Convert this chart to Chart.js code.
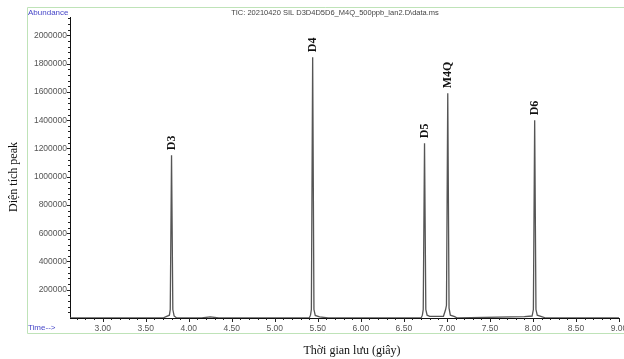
<!DOCTYPE html>
<html>
<head>
<meta charset="utf-8">
<script src="https://cdn.jsdelivr.net/npm/chart.js@4"></script>
<style>
  html, body { margin: 0; padding: 0; background: #fff; }
  #wrap { width: 624px; height: 359px; position: relative; }
</style>
</head>
<body>
<div id="wrap"><canvas id="tic" width="624" height="359"></canvas></div>
<script>
// -----------------------------
// Data
// -----------------------------
const retTime = [2.62, 3.70, 3.775, 3.785, 3.80, 3.815, 3.83, 3.86, 4.15, 4.25, 4.35,
                 5.40, 5.415, 5.425, 5.44, 5.455, 5.47, 5.52, 5.62,
                 6.70, 6.715, 6.725, 6.74, 6.755, 6.77, 6.80, 6.96, 6.985, 6.995, 7.01, 7.025, 7.04, 7.09, 7.12,
                 7.90, 7.99, 8.005, 8.02, 8.035, 8.05, 8.10, 8.15, 9.0];
const abundance = [0, 0, 20000, 60000, 1152000, 60000, 15000, 0, 0, 8000, 0,
                   0, 20000, 60000, 1845000, 60000, 18000, 8000, 0,
                   0, 20000, 60000, 1237000, 60000, 20000, 12000, 12000, 60000, 90000, 1590000, 70000, 20000, 10000, 0,
                   10000, 14000, 60000, 1399000, 60000, 20000, 10000, 0, 0];

const peakNames = ["D3", "D4", "D5", "M4Q", "D6"];
const peakTimes = [3.80, 5.44, 6.74, 7.01, 8.02];
const peakHeights = [1152000, 1845000, 1237000, 1590000, 1399000];

const xTicks = [3.0, 3.5, 4.0, 4.5, 5.0, 5.5, 6.0, 6.5, 7.0, 7.5, 8.0, 8.5, 9.0];
const yTicks = [200000, 400000, 600000, 800000, 1000000, 1200000, 1400000, 1600000, 1800000, 2000000];

const points = retTime.map((t, i) => ({ x: t, y: abundance[i] }));

// -----------------------------
// Decorations: frame, header texts, tick marks, peak names
// -----------------------------
const decor = {
    id: "decor",
    afterDraw(chart) {
        const ctx = chart.ctx;
        const xs = chart.scales.x;
        const ys = chart.scales.y;
        const area = chart.chartArea;
        ctx.save();

        // light green frame
        ctx.strokeStyle = "#bfe3b8";
        ctx.lineWidth = 1;
        ctx.beginPath();
        ctx.moveTo(624, 7.5);
        ctx.lineTo(27.5, 7.5);
        ctx.lineTo(27.5, 333.5);
        ctx.lineTo(624, 333.5);
        ctx.stroke();

        // header
        ctx.font = "8px 'Liberation Sans', Arial, sans-serif";
        ctx.textBaseline = "middle";
        ctx.fillStyle = "#4646c8";
        ctx.textAlign = "left";
        ctx.fillText("Abundance", 28, 13);
        ctx.fillText("Time-->", 28, 328);
        ctx.fillStyle = "#444";
        ctx.textAlign = "center";
        ctx.font = "7.5px 'Liberation Sans', Arial, sans-serif";
        ctx.fillText("TIC: 20210420 SIL D3D4D5D6_M4Q_500ppb_lan2.D\\data.ms", 335, 13);

        // tick marks
        ctx.strokeStyle = "#222";
        ctx.beginPath();
        for (let v = 2.7; v <= 9.001; v += 0.1) {
            const px = Math.round(xs.getPixelForValue(v)) + 0.5;
            const major = Math.abs(v * 2 - Math.round(v * 2)) < 0.01;
            ctx.moveTo(px, area.bottom);
            ctx.lineTo(px, area.bottom + (major ? 4 : 2));
        }
        for (let v = 40000; v <= 2120000; v += 40000) {
            const py = Math.round(ys.getPixelForValue(v)) + 0.5;
            const major = v % 200000 === 0;
            ctx.moveTo(area.left, py);
            ctx.lineTo(area.left - (major ? 3 : 2), py);
        }
        ctx.stroke();

        // axis titles
        ctx.fillStyle = "#111";
        ctx.font = "12px 'Liberation Serif', 'Times New Roman', serif";
        ctx.textAlign = "center";
        ctx.fillText("Thời gian lưu (giây)", 352, 351);
        ctx.save();
        ctx.translate(14, 177);
        ctx.rotate(-Math.PI / 2);
        ctx.fillText("Diện tích peak", 0, 0);
        ctx.restore();

        // peak names
        ctx.font = "bold 12px 'Liberation Serif', 'Times New Roman', serif";
        ctx.textAlign = "left";
        peakNames.forEach((name, i) => {
            const px = xs.getPixelForValue(peakTimes[i]);
            const py = ys.getPixelForValue(peakHeights[i]);
            ctx.save();
            ctx.translate(px, py - 5);
            ctx.rotate(-Math.PI / 2);
            ctx.fillText(name, 0, 0);
            ctx.restore();
        });

        ctx.restore();
    }
};

// -----------------------------
// Chart
// -----------------------------
new Chart(document.getElementById("tic"), {
    type: "line",
    data: {
        datasets: [{
            data: points,
            borderColor: "#555",
            borderWidth: 1.3,
            pointRadius: 0,
            tension: 0,
            fill: false
        }]
    },
    options: {
        responsive: false,
        animation: false,
        devicePixelRatio: 1,
        layout: { padding: { top: 17, right: 5, left: 0, bottom: 0 } },
        plugins: {
            legend: { display: false },
            tooltip: { enabled: false }
        },
        scales: {
            x: {
                type: "linear",
                min: 2.62,
                max: 9.0,
                grid: { display: false, tickLength: 0 },
                border: { display: true, color: "#111", width: 1 },
                afterBuildTicks: s => { s.ticks = xTicks.map(v => ({ value: v })); },
                ticks: {
                    maxRotation: 0,
                    autoSkip: false,
                    padding: 6,
                    color: "#555",
                    font: { family: "'Liberation Sans', Arial, sans-serif", size: 8.5 },
                    callback: v => Number(v).toFixed(2)
                },
                afterFit: s => { s.height = 41; s.paddingLeft = 0; s.paddingRight = 0; }
            },
            y: {
                min: 0,
                max: 2130000,
                grid: { display: false, tickLength: 0 },
                border: { display: true, color: "#111", width: 1 },
                afterBuildTicks: s => { s.ticks = yTicks.map(v => ({ value: v })); },
                ticks: {
                    autoSkip: false,
                    padding: 3,
                    color: "#555",
                    font: { family: "'Liberation Sans', Arial, sans-serif", size: 8.5 },
                    callback: v => String(v)
                },
                afterFit: s => { s.width = 70; s.paddingTop = 0; s.paddingBottom = 0; }
            }
        }
    },
    plugins: [decor]
});
</script>
</body>
</html>
